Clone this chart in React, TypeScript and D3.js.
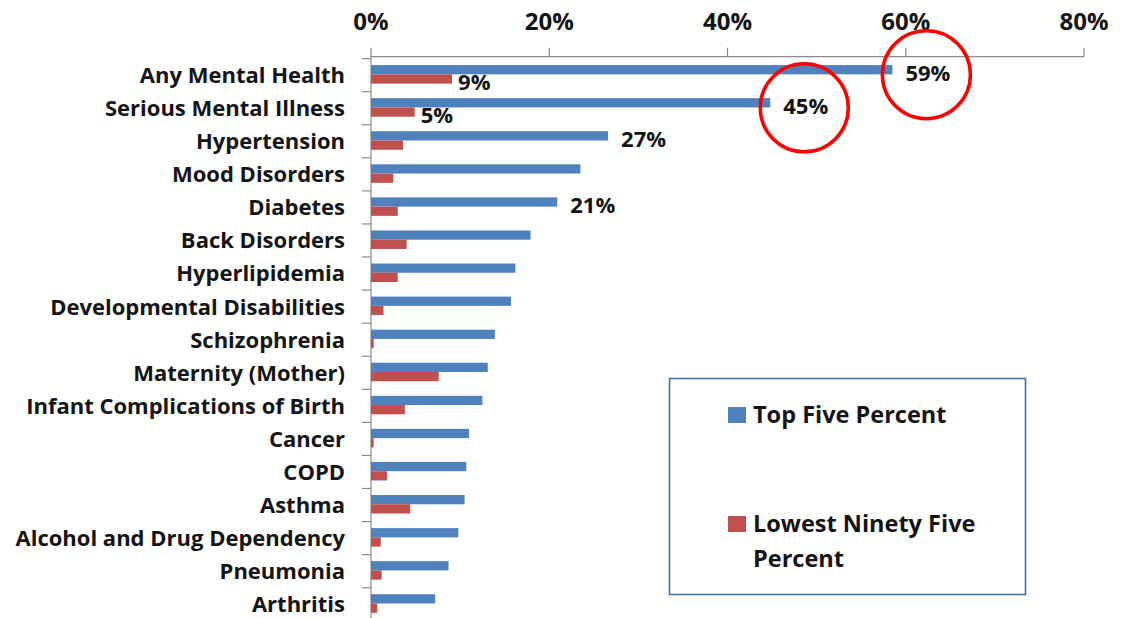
import React from "react";
import * as d3 from "d3";

const categories = [
  "Any Mental Health",
  "Serious Mental Illness",
  "Hypertension",
  "Mood Disorders",
  "Diabetes",
  "Back Disorders",
  "Hyperlipidemia",
  "Developmental Disabilities",
  "Schizophrenia",
  "Maternity (Mother)",
  "Infant Complications of Birth",
  "Cancer",
  "COPD",
  "Asthma",
  "Alcohol and Drug Dependency",
  "Pneumonia",
  "Arthritis",
];

// share of each group with the condition
const topFive = [0.585, 0.448, 0.266, 0.235, 0.209, 0.179, 0.162, 0.157, 0.139, 0.131, 0.125, 0.11, 0.107, 0.105, 0.098, 0.087, 0.072];
const lowestNinetyFive = [0.091, 0.049, 0.036, 0.025, 0.03, 0.04, 0.03, 0.014, 0.003, 0.076, 0.038, 0.003, 0.018, 0.044, 0.011, 0.012, 0.007];

const topLabels = ["59%", "45%", "27%", "", "21%", "", "", "", "", "", "", "", "", "", "", "", ""];
const lowLabels = ["9%", "5%", "", "", "", "", "", "", "", "", "", "", "", "", "", "", ""];
const circled = ["Any Mental Health", "Serious Mental Illness"];

const xTicks = [0, 0.2, 0.4, 0.6, 0.8];
const seriesNames = ["Top Five Percent", "Lowest Ninety Five Percent"];

const BLUE = "#4f81bd";
const RED = "#c0504d";
const AXIS = "#8c8c8c";
const TEXT = "#141414";
const FONT = "'Open Sans', Lato, sans-serif";

export default function App() {
  const width = 1122;
  const height = 618;
  const axisY = 56.7;

  const x = d3.scaleLinear().domain([0, 0.8]).range([371, 1084]);
  const y = d3.scaleBand().domain(categories).range([58.6, 620.8]);
  const sub = d3.scaleBand().domain(["top", "low"]).range([6.5, 25]);
  const fmt = d3.format(".0%");

  return (
    <svg width={width} height={height} style={{ position: "absolute", left: 0, top: 0, background: "#fff" }} fontFamily={FONT}>
      {/* top axis */}
      <line x1={x(0)} x2={x(0.8)} y1={axisY} y2={axisY} stroke={AXIS} strokeWidth={1.2} />
      {xTicks.map((t) => (
        <g key={t}>
          <line x1={x(t)} x2={x(t)} y1={axisY - 9} y2={axisY} stroke={AXIS} strokeWidth={1.2} />
          <text x={x(t)} y={30} textAnchor="middle" fontSize={24} fontWeight={700} fill={TEXT}>
            {fmt(t)}
          </text>
        </g>
      ))}

      {/* left axis */}
      <line x1={x(0)} x2={x(0)} y1={axisY} y2={y.range()[1]} stroke={AXIS} strokeWidth={1.2} />
      {categories.map((c) => (
        <line key={c} x1={x(0) - 9} x2={x(0)} y1={y(c)!} y2={y(c)!} stroke={AXIS} strokeWidth={1.2} />
      ))}
      {categories.map((c) => (
        <text key={c} x={345} y={y(c)! + y.bandwidth() / 2} dy="0.36em" textAnchor="end" fontSize={22} fontWeight={700} fill={TEXT}>
          {c}
        </text>
      ))}

      {/* bars */}
      {categories.map((c, i) => (
        <g key={c}>
          <rect x={x(0)} y={y(c)! + sub("top")!} width={x(topFive[i]) - x(0)} height={sub.bandwidth()} fill={BLUE} />
          <rect x={x(0)} y={y(c)! + sub("low")!} width={x(lowestNinetyFive[i]) - x(0)} height={sub.bandwidth()} fill={RED} />
        </g>
      ))}

      {/* data labels */}
      {categories.map((c, i) =>
        topLabels[i] ? (
          <text key={c} x={x(topFive[i]) + 13} y={y(c)! + sub("top")! + sub.bandwidth() / 2 + 3} dy="0.36em" fontSize={22} fontWeight={700} fill={TEXT}>
            {topLabels[i]}
          </text>
        ) : null
      )}
      {categories.map((c, i) =>
        lowLabels[i] ? (
          <text key={c} x={x(lowestNinetyFive[i]) + 6} y={y(c)! + sub("low")! + sub.bandwidth() / 2 + 3} dy="0.36em" fontSize={22} fontWeight={700} fill={TEXT}>
            {lowLabels[i]}
          </text>
        ) : null
      )}

      {/* red circles round the two highlighted labels */}
      {circled.map((c) => {
        const i = categories.indexOf(c);
        return (
          <ellipse
            key={c}
            cx={x(topFive[i]) + 34}
            cy={y(c)! + sub("top")! + sub.bandwidth() / 2 + 5}
            rx={44}
            ry={44}
            fill="none"
            stroke="#ff0000"
            strokeWidth={3.5}
          />
        );
      })}

      {/* legend */}
      <rect x={669.5} y={378.5} width={356} height={216} fill="#fff" stroke="#4a6d99" strokeWidth={1.6} />
      <rect x={728} y={407} width={18} height={16} fill={BLUE} />
      <text x={753} y={415} dy="0.36em" fontSize={23.5} fontWeight={700} fill={TEXT}>
        {seriesNames[0]}
      </text>
      <rect x={728} y={516} width={18} height={16} fill={RED} />
      <text x={753} y={524} dy="0.36em" fontSize={23.5} fontWeight={700} fill={TEXT}>
        <tspan x={753}>Lowest Ninety Five</tspan>
        <tspan x={753} dy="1.45em">Percent</tspan>
      </text>
    </svg>
  );
}
